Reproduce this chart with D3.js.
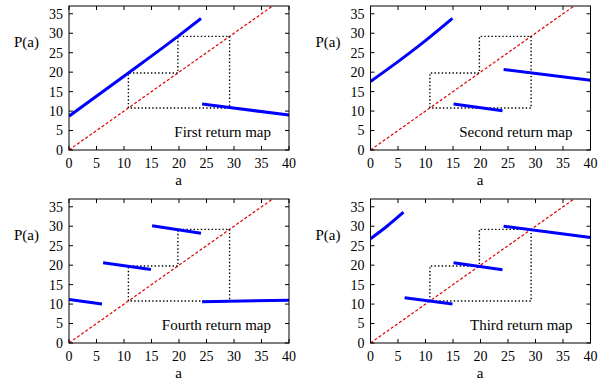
<!DOCTYPE html>
<html>
<head>
<meta charset="utf-8">
<script src="https://cdn.jsdelivr.net/npm/d3@7"></script>
<style>
  body { margin: 0; background: #fff; }
  svg { display: block; font-family: "Liberation Serif", "Times New Roman", serif; }
</style>
</head>
<body>
<script>
// axis ticks
const xTicks = [0, 5, 10, 15, 20, 25, 30, 35, 40];
const yTicks = [0, 5, 10, 15, 20, 25, 30, 35];

// period-3 orbit shown as dotted staircase
const orbit = [10.8, 19.8, 29.2];

// branches of each return map, [a, P(a)]
const firstMap = [
  [[0, 8.7], [10.8, 19.8], [19.8, 29.2], [24.0, 33.8]],
  [[24.2, 11.8], [29.2, 10.9], [40, 9.0]]
];
const secondMap = [
  [[0, 17.6], [5, 22.7], [10, 28.1], [14.9, 33.8]],
  [[15.1, 11.8], [24.0, 10.1]],
  [[24.2, 20.7], [40, 17.9]]
];
const thirdMap = [
  [[0, 26.8], [3, 30.0], [6.0, 33.6]],
  [[6.2, 11.6], [14.9, 10.0]],
  [[15.1, 20.6], [24.0, 18.8]],
  [[24.2, 30.0], [40, 27.1]]
];
const fourthMap = [
  [[0, 11.2], [6.0, 10.0]],
  [[6.2, 20.6], [14.9, 18.9]],
  [[15.1, 30.1], [24.0, 28.2]],
  [[24.2, 10.6], [40, 11.0]]
];

const panels = [
  {title: "First return map", branches: firstMap, left: 69, top: 6},
  {title: "Second return map", branches: secondMap, left: 370.5, top: 6},
  {title: "Fourth return map", branches: fourthMap, left: 69, top: 199},
  {title: "Third return map", branches: thirdMap, left: 370.5, top: 199}
];

const W = 612, H = 387;
const pw = 220, ph = 144;

const svg = d3.select("body").append("svg")
  .attr("width", W)
  .attr("height", H);

panels.forEach((p, k) => {
  const g = svg.append("g").attr("transform", `translate(${p.left},${p.top})`);

  const x = d3.scaleLinear().domain([0, 40]).range([0, pw]);
  const y = d3.scaleLinear().domain([0, 37]).range([ph, 0]);

  // tick marks (inward, mirrored)
  const tl = 4;
  g.append("g").selectAll("line").data(xTicks).join("line")
    .attr("x1", d => x(d)).attr("x2", d => x(d))
    .attr("y1", ph).attr("y2", ph - tl)
    .attr("stroke", "#000");
  g.append("g").selectAll("line").data(xTicks).join("line")
    .attr("x1", d => x(d)).attr("x2", d => x(d))
    .attr("y1", 0).attr("y2", tl)
    .attr("stroke", "#000");
  g.append("g").selectAll("line").data(yTicks).join("line")
    .attr("x1", 0).attr("x2", tl)
    .attr("y1", d => y(d)).attr("y2", d => y(d))
    .attr("stroke", "#000");
  g.append("g").selectAll("line").data(yTicks).join("line")
    .attr("x1", pw).attr("x2", pw - tl)
    .attr("y1", d => y(d)).attr("y2", d => y(d))
    .attr("stroke", "#000");

  // tick labels
  g.append("g").selectAll("text").data(xTicks).join("text")
    .attr("x", d => x(d))
    .attr("y", ph + 18)
    .attr("text-anchor", "middle")
    .attr("font-size", 14)
    .text(d => d);
  g.append("g").selectAll("text").data(yTicks).join("text")
    .attr("x", -6)
    .attr("y", d => y(d))
    .attr("dy", "0.35em")
    .attr("text-anchor", "end")
    .attr("font-size", 14)
    .text(d => d);

  // axis titles
  g.append("text")
    .attr("x", pw / 2 - 0.5)
    .attr("y", ph + 35)
    .attr("text-anchor", "middle")
    .attr("font-size", 15)
    .text("a");
  g.append("text")
    .attr("x", -55)
    .attr("y", 41)
    .attr("font-size", 15)
    .text("P(a)");

  g.append("defs").append("clipPath").attr("id", "clip" + k)
    .append("rect").attr("width", pw).attr("height", ph);
  const plot = g.append("g").attr("clip-path", `url(#clip${k})`);

  // diagonal
  plot.append("path")
    .attr("d", d3.line().x(d => x(d)).y(d => y(d))([0, 40]))
    .attr("fill", "none")
    .attr("stroke", "#e00000")
    .attr("stroke-width", 1.2)
    .attr("stroke-dasharray", "3,2");

  // orbit staircase
  const [o1, o2, o3] = orbit;
  const stair = [[o1, o1], [o1, o2], [o2, o2], [o2, o3], [o3, o3], [o3, o1], [o1, o1]];
  plot.append("path")
    .attr("d", d3.line().x(d => x(d[0])).y(d => y(d[1]))(stair))
    .attr("fill", "none")
    .attr("stroke", "#000")
    .attr("stroke-width", 1.4)
    .attr("stroke-dasharray", "1.4,2.2");

  // map branches
  const line = d3.line().x(d => x(d[0])).y(d => y(d[1])).curve(d3.curveMonotoneX);
  plot.selectAll(".branch").data(p.branches).join("path")
    .attr("class", "branch")
    .attr("d", line)
    .attr("fill", "none")
    .attr("stroke", "#0000ff")
    .attr("stroke-width", 3);

  // frame
  g.append("rect")
    .attr("width", pw).attr("height", ph)
    .attr("fill", "none")
    .attr("stroke", "#000")
    .attr("stroke-width", 1);

  // key
  g.append("text")
    .attr("x", pw - 18)
    .attr("y", ph - 13)
    .attr("text-anchor", "end")
    .attr("font-size", 15)
    .text(p.title);
});
</script>
</body>
</html>
